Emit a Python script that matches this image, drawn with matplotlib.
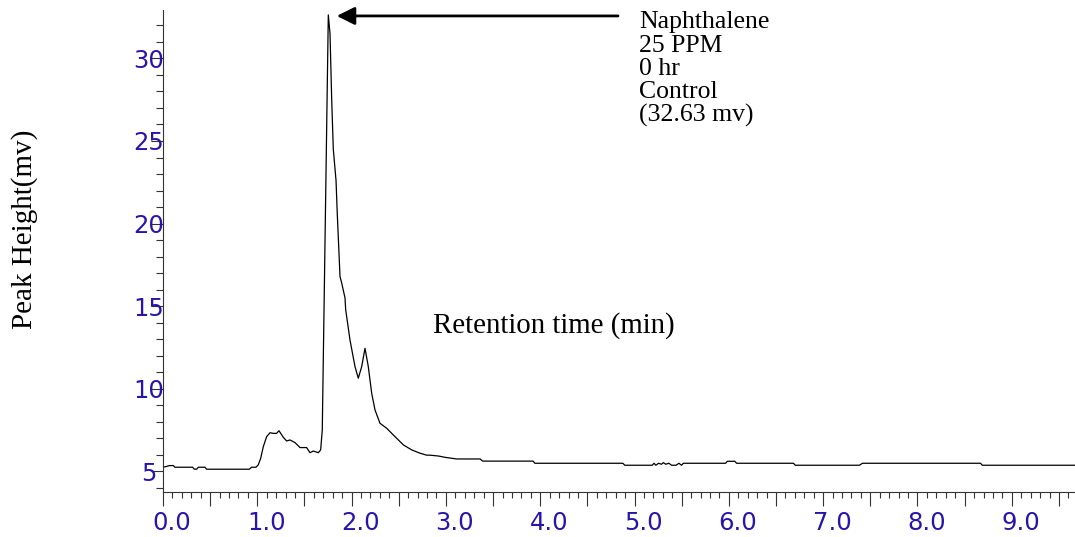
import numpy as np
import matplotlib
matplotlib.use("Agg")
import matplotlib.pyplot as plt
import matplotlib.transforms as mtransforms
from matplotlib.ticker import MultipleLocator

# chromatogram trace: retention time (min) / peak height (mv)
time_min = [0.0, 0.04, 0.067, 0.11, 0.127, 0.315, 0.332, 0.357, 0.375, 0.445,
            0.463, 0.915, 0.94, 0.986, 1.011, 1.036, 1.064, 1.099, 1.135, 1.17,
            1.205, 1.23, 1.276, 1.311, 1.347, 1.4, 1.453, 1.523, 1.559, 1.594,
            1.647, 1.672, 1.689, 1.753, 1.771, 1.789, 1.806, 1.835, 1.848, 1.877,
            1.895, 1.93, 1.937, 1.983, 2.036, 2.071, 2.107, 2.142, 2.177, 2.213,
            2.248, 2.301, 2.372, 2.443, 2.549, 2.637, 2.725, 2.796, 2.831, 2.92,
            2.99, 3.114, 3.362, 3.39, 3.924, 3.943, 4.876, 4.896, 5.188, 5.207,
            5.226, 5.254, 5.285, 5.305, 5.331, 5.363, 5.394, 5.44, 5.471, 5.498,
            5.518, 5.965, 5.984, 6.063, 6.082, 6.685, 6.704, 7.385, 7.416, 8.668,
            8.687, 9.67]
height_mv = [5.25, 5.3, 5.35, 5.35, 5.25, 5.25, 5.13, 5.13, 5.25, 5.25,
             5.13, 5.13, 5.25, 5.25, 5.4, 5.79, 6.5, 7.1, 7.34, 7.3,
             7.3, 7.46, 7.06, 6.84, 6.9, 6.74, 6.44, 6.44, 6.13, 6.23,
             6.13, 6.3, 7.5, 32.63, 31.5, 27.5, 24.5, 22.6, 20.6, 16.8,
             16.4, 15.5, 14.8, 12.95, 11.34, 10.64, 11.34, 12.45, 11.34, 9.73,
             8.72, 7.91, 7.61, 7.2, 6.6, 6.3, 6.1, 5.98, 5.98, 5.93,
             5.85, 5.75, 5.75, 5.62, 5.62, 5.49, 5.49, 5.37, 5.37, 5.49,
             5.37, 5.49, 5.43, 5.53, 5.43, 5.49, 5.37, 5.37, 5.49, 5.37,
             5.49, 5.49, 5.61, 5.61, 5.49, 5.49, 5.37, 5.37, 5.49, 5.49,
             5.37, 5.37]

peak_time = 1.753
peak_height = 32.63

x_ticks = [i * 0.5 for i in range(20)]
x_tick_labels = ["%.1f" % t if t == int(t) else "" for t in x_ticks]
y_ticks = [5, 10, 15, 20, 25, 30]
y_tick_labels = ["5", "10", "15", "20", "25", "30"]

note_lines = ["Naphthalene", "25 PPM", "0 hr", "Control", "(32.63 mv)"]

blue = "#2814AA"
serif = "Liberation Serif"

fig = plt.figure(figsize=(10.75, 5.37), dpi=100)
ax = fig.add_axes([0.1516, 0.0844, 0.8484, 0.897])

ax.plot(time_min, height_mv, color="black", lw=0.9)

ax.set_xlim(0, 9.67)
ax.set_ylim(3.77, 32.93)
for s in ["top", "right"]:
    ax.spines[s].set_visible(False)
for s in ["left", "bottom"]:
    ax.spines[s].set_color("#333333")
    ax.spines[s].set_linewidth(0.8)

ax.set_xticks(x_ticks, x_tick_labels)
ax.xaxis.set_minor_locator(MultipleLocator(0.1))
ax.set_yticks(y_ticks, y_tick_labels)
ax.yaxis.set_minor_locator(MultipleLocator(1))

ax.tick_params(axis="x", which="major", length=10.3, width=0.8, pad=3.4,
               labelsize=17.5, labelcolor=blue, color="#333333")
ax.tick_params(axis="x", which="minor", length=4.3, width=0.8, color="#333333")
ax.tick_params(axis="y", which="major", length=8.4, width=0.8, pad=1.7,
               labelsize=17.5, labelcolor=blue, color="#333333")
ax.tick_params(axis="y", which="minor", length=5.2, width=0.8, color="#333333")

# x labels sit a little right of their ticks in the original
shift = mtransforms.ScaledTranslation(0.09, 0, fig.dpi_scale_trans)
for lbl in ax.get_xticklabels():
    lbl.set_transform(lbl.get_transform() + shift)
plt.setp(ax.get_yticklabels(), ha="center")

# arrow pointing at the main peak
ax.annotate("", xy=(peak_time + 0.09, peak_height - 0.06),
            xytext=(4.825, peak_height - 0.06),
            arrowprops=dict(arrowstyle="-|>,head_length=1.08,head_width=0.54",
                            mutation_scale=10, color="black", lw=2,
                            shrinkA=0, shrinkB=0))

for i, line in enumerate(note_lines):
    fig.text(639 / 1075, 1 - (28.3 + 23.35 * i) / 537, line, family=serif,
             fontsize=18.5, va="baseline", ha="left")

fig.text(433 / 1075, 1 - 332.7 / 537, "Retention time (min)", family=serif,
         fontsize=20.8, va="baseline", ha="left")
fig.text(25 / 1075, 1 - 229 / 537, "Peak Height(mv)", family=serif,
         fontsize=21, rotation=90, ha="center", va="center")

fig.savefig("out.png", dpi=100)
